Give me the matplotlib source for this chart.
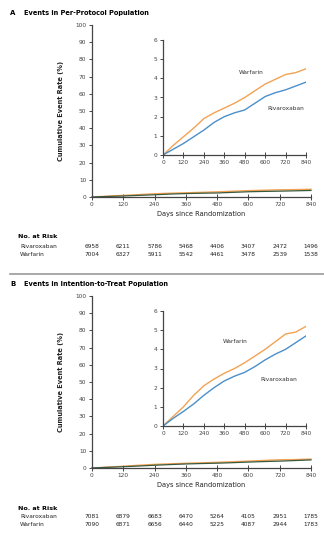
import numpy as np
import matplotlib
matplotlib.use("Agg")
import matplotlib.pyplot as plt
from matplotlib.lines import Line2D

# data
days = [0, 60, 120, 180, 240, 300, 360, 420, 480, 540, 600, 660, 720, 780, 840]
warf_pp = [0, 0.5, 0.95, 1.4, 1.9, 2.2, 2.45, 2.7, 3.0, 3.35, 3.7, 3.95, 4.2, 4.3, 4.5]
riva_pp = [0, 0.3, 0.6, 0.95, 1.3, 1.7, 2.0, 2.2, 2.35, 2.7, 3.05, 3.25, 3.4, 3.6, 3.8]
warf_itt = [0, 0.5, 1.0, 1.6, 2.1, 2.45, 2.75, 3.0, 3.3, 3.65, 4.0, 4.4, 4.8, 4.9, 5.2]
riva_itt = [0, 0.4, 0.76, 1.15, 1.6, 2.0, 2.35, 2.6, 2.8, 3.1, 3.45, 3.75, 4.0, 4.35, 4.7]

risk_days = [0, 120, 240, 360, 480, 600, 720, 840]
risk_riva_pp = [6958, 6211, 5786, 5468, 4406, 3407, 2472, 1496]
risk_warf_pp = [7004, 6327, 5911, 5542, 4461, 3478, 2539, 1538]
risk_riva_itt = [7081, 6879, 6683, 6470, 5264, 4105, 2951, 1785]
risk_warf_itt = [7090, 6871, 6656, 6440, 5225, 4087, 2944, 1783]

ORANGE = "#f3a253"
BLUE = "#4b8fc9"
AXC = "#444444"
FS = 4.2

W, H = 324, 537
MAIN_W = 219  # pixel width of main axes
fig = plt.figure(figsize=(W / 100, H / 100), dpi=100)


def fx(px):
    return px / W


def fy(py):
    return 1 - py / H


def style_axes(ax, xmax, ymax, ystep):
    for s in ["top", "right"]:
        ax.spines[s].set_visible(False)
    for s in ["left", "bottom"]:
        ax.spines[s].set_color(AXC)
        ax.spines[s].set_linewidth(0.9)
    ax.set_xlim(0, xmax)
    ax.set_ylim(0, ymax)
    ax.set_xticks(risk_days)
    ax.set_yticks(np.arange(0, ymax + 0.1, ystep))
    ax.tick_params(axis="both", labelsize=FS, colors=AXC, length=2.5, width=0.7, pad=1.5)
    ax.tick_params(axis="x", direction="inout", length=4)
    ax.patch.set_alpha(0)


def panel(top, warf, riva, riskr, riskw, letter, title, lab_w, lab_r):
    # top = pixel row of the panel title
    ax = fig.add_axes([fx(92), fy(top + 184), fx(MAIN_W), (172 / H)])
    style_axes(ax, 840, 100, 10)
    ax.plot(days, warf, color=ORANGE, lw=1.0, clip_on=False)
    ax.plot(days, riva, color="#3a5a40", lw=0.9, clip_on=False)
    ax.set_xlabel("Days since Randomization", fontsize=4.8, color="#222222", labelpad=3)
    ax.set_ylabel("Cumulative Event Rate (%)", fontsize=4.8, color="#222222", labelpad=8,
                  fontweight="bold")

    ins = fig.add_axes([fx(163), fy(top + 142), fx(143), (115 / H)])
    style_axes(ins, 840, 6, 1)
    ins.tick_params(axis="y", length=2.5)
    ins.plot(days, warf, color=ORANGE, lw=1.0)
    ins.plot(days, riva, color=BLUE, lw=1.0)
    ins.text(lab_w[0], lab_w[1], "Warfarin", fontsize=FS, ha="center", va="center", color="#333333")
    ins.text(lab_r[0], lab_r[1], "Rivaroxaban", fontsize=FS, ha="center", va="center", color="#333333")

    fig.text(fx(10), fy(top), letter, fontsize=5, fontweight="bold", va="center")
    fig.text(fx(24), fy(top), title, fontsize=4.8, fontweight="bold", va="center")

    fig.text(fx(18), fy(top + 224), "No. at Risk", fontsize=4.6, fontweight="bold", va="center")
    rows = [("Rivaroxaban", riskr, top + 233), ("Warfarin", riskw, top + 241)]
    for name, vals, py in rows:
        fig.text(fx(20), fy(py), name, fontsize=FS, va="center", color="#222222")
        for d, v in zip(risk_days, vals):
            xx = fx(92 + d / 840 * MAIN_W)
            fig.text(xx, fy(py), str(v), fontsize=FS, ha="center", va="center", color="#222222")
    return ax


panel(13, warf_pp, riva_pp, risk_riva_pp, risk_warf_pp, "A",
      "Events in Per-Protocol Population", (520, 4.3), (722, 2.4))
panel(284, warf_itt, riva_itt, risk_riva_itt, risk_warf_itt, "B",
      "Events in Intention-to-Treat Population", (426, 4.4), (677, 2.45))

fig.add_artist(Line2D([fx(10), 1], [fy(274), fy(274)], color="#999999", lw=1.2,
                      transform=fig.transFigure))

fig.savefig("out.png", dpi=100, facecolor="white")
